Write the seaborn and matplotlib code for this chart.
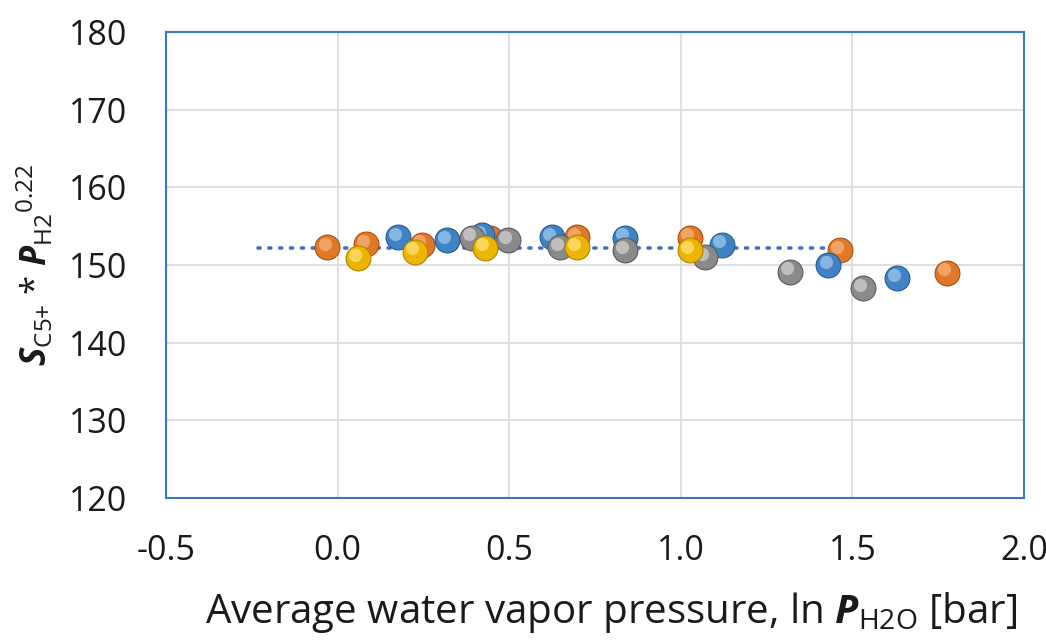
import matplotlib
matplotlib.use("Agg")
import matplotlib.pyplot as plt
import seaborn as sns
import pandas as pd
import numpy as np

# Data
orange_x = [-0.03, 0.083, 0.245, 0.444, 0.697, 1.027, 1.464, 1.776]
orange_y = [152.3, 152.7, 152.6, 153.5, 153.6, 153.5, 151.9, 149.0]
blue_x = [0.176, 0.318, 0.42, 0.624, 0.837, 1.12, 1.43, 1.63]
blue_y = [153.6, 153.2, 153.8, 153.6, 153.5, 152.6, 150.0, 148.3]
gray_x = [0.392, 0.497, 0.648, 0.837, 1.07, 1.318, 1.53]
gray_y = [153.5, 153.2, 152.3, 151.9, 151.0, 149.1, 147.0]
yellow_x = [0.059, 0.226, 0.43, 0.697, 1.027]
yellow_y = [150.9, 151.7, 152.2, 152.3, 151.9]
trend_x = [-0.232, 1.45]
trend_y = [152.25, 152.25]

x_ticks = [-0.5, 0.0, 0.5, 1.0, 1.5, 2.0]
y_ticks = [120, 130, 140, 150, 160, 170, 180]

sns.set_theme(style="white")
plt.rcParams['font.family'] = ['Open Sans', 'DejaVu Sans']
plt.rcParams['mathtext.fontset'] = 'custom'
plt.rcParams['mathtext.rm'] = 'Open Sans'
plt.rcParams['mathtext.it'] = 'Open Sans:italic'
plt.rcParams['mathtext.bf'] = 'Open Sans:bold'
plt.rcParams['mathtext.bfit'] = 'Open Sans:italic:bold'

fig = plt.figure(figsize=(10.46, 6.41), dpi=100)
ax = fig.add_axes([166/1046, 1-498/641, (1024-166)/1046, (498-32)/641])

series = [
    (orange_x, orange_y, "#E07828", "#A84F10", "#F5B27A"),
    (blue_x, blue_y, "#3F83C5", "#245C92", "#9CC6EE"),
    (gray_x, gray_y, "#8A8A8A", "#5A5A5A", "#D0D0D0"),
    (yellow_x, yellow_y, "#EDB500", "#B08400", "#FFE27A"),
]

ax.set_axisbelow(True)
ax.grid(True, color="#D9D9D9", linewidth=1.2)

sns.lineplot(x=trend_x, y=trend_y, ax=ax, color="#4472C4", linestyle=(0, (0.6, 2.4)),
             linewidth=2.6, zorder=2, dash_capstyle="round")

for i in [1, 0, 2, 3]:
    xs, ys, c, edge, hl = series[i]
    df = pd.DataFrame({"x": xs, "y": ys})
    sns.scatterplot(data=df, x="x", y="y", ax=ax, s=320, color=c,
                    edgecolor=edge, linewidth=0.8, zorder=3 + i * 0.1)
    # highlight to suggest spherical shading
    ax.scatter(np.array(xs) - 0.008, np.array(ys) + 0.45, s=90, color=hl,
               alpha=0.75, linewidths=0, zorder=3.05 + i * 0.1)

ax.set_xlim(-0.5, 2.0)
ax.set_ylim(120, 180)
ax.set_xticks(x_ticks)
ax.set_xticklabels([f"{v:.1f}" for v in x_ticks])
ax.set_yticks(y_ticks)
ax.set_yticklabels([str(v) for v in y_ticks])
ax.tick_params(axis="x", labelsize=24.5, length=0, pad=26, colors="#1a1a1a")
ax.tick_params(axis="y", labelsize=24.5, length=0, pad=28, colors="#1a1a1a")

for sp in ax.spines.values():
    sp.set_color("#3A78C0")
    sp.set_linewidth(1.5)

ax.set_xlabel(r"Average water vapor pressure, ln $\boldsymbol{P}_{\mathrm{H2O}}$ [bar]",
              fontsize=29, color="#1a1a1a")
ax.xaxis.set_label_coords(0.519, -0.198)
ax.xaxis.label.set_va("top")
ax.set_ylabel(r"$\boldsymbol{S}_{\mathrm{C5{+}}}$ * $\boldsymbol{P}_{\mathrm{H2}}{}^{\mathrm{0.22}}$",
              fontsize=25, labelpad=10, color="#1a1a1a")

fig.savefig("out.png", dpi=100)
